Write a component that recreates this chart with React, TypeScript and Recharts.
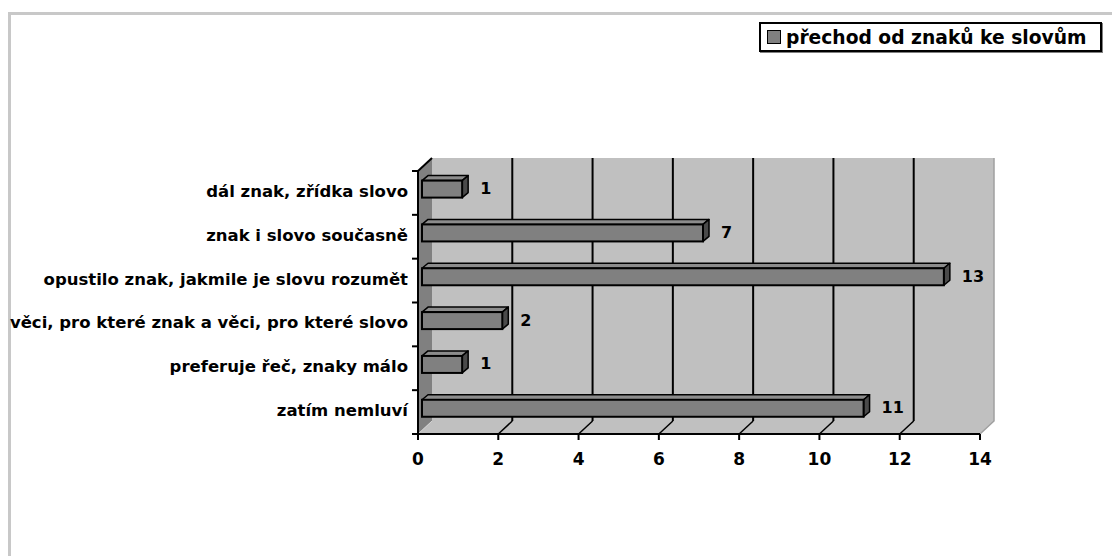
import React from 'react';
import { BarChart, Bar, XAxis, YAxis, ReferenceArea, Legend, LabelList } from 'recharts';

const categories = [
  'dál znak, zřídka slovo',
  'znak i slovo současně',
  'opustilo znak, jakmile je slovu rozumět',
  'věci, pro které znak a věci, pro které slovo',
  'preferuje řeč, znaky málo',
  'zatím nemluví',
];
const values = [1, 7, 13, 2, 1, 11];
const xTicks = [0, 2, 4, 6, 8, 10, 12, 14];
const seriesName = 'přechod od znaků ke slovům';

const data = categories.map((c, i) => ({ name: c, value: values[i] }));

const FONT = '"DejaVu Sans", Verdana, sans-serif';

const Walls = (p: any) => {
  const { x, y, width, height } = p;
  const dx = 14;
  const dy = 13;
  const bx = x + dx;
  const by = y - dy;
  const n = categories.length;
  const maxV = xTicks[xTicks.length - 1];
  const gx = (v: number) => x + (width * v) / maxV;
  const inner = xTicks.slice(1, -1);
  const yb = y + height;
  return (
    <g>
      <polygon points={`${bx},${by} ${bx + width},${by} ${bx + width},${by + height} ${bx},${by + height}`} fill="#c0c0c0" />
      <polygon points={`${x},${yb} ${bx},${by + height} ${bx + width},${by + height} ${x + width},${yb}`} fill="#c0c0c0" />
      <polygon points={`${x},${y} ${bx},${by} ${bx},${by + height} ${x},${yb}`} fill="#808080" />
      <line x1={x} y1={yb} x2={bx} y2={by + height} stroke="#d4d4d4" strokeWidth={1} />
      {inner.map((v) => (
        <line key={'g' + v} x1={gx(v) + dx} y1={by} x2={gx(v) + dx} y2={by + height} stroke="#000" strokeWidth={2} />
      ))}
      {inner.map((v) => (
        <line key={'d' + v} x1={gx(v)} y1={yb} x2={gx(v) + dx} y2={by + height} stroke="#000" strokeWidth={1.5} />
      ))}
      <polyline points={`${bx + width},${by} ${bx + width},${by + height} ${x + width},${yb}`} fill="none" stroke="#a0a0a0" strokeWidth={1.5} />
      <line x1={x} y1={y} x2={bx} y2={by} stroke="#000" strokeWidth={2} />
      {Array.from({ length: n + 1 }, (_, i) => (
        <line key={'t' + i} x1={x - 6} y1={y + (i * height) / n} x2={x} y2={y + (i * height) / n} stroke="#000" strokeWidth={2} />
      ))}
    </g>
  );
};

const Bar3D = (p: any) => {
  const { x, y, width, height } = p;
  if (width == null || isNaN(width)) return null;
  const fx = x + 4;
  const fy = y - 3.4;
  const w = width;
  const h = height;
  const dx = 6;
  const dy = 5;
  return (
    <g>
      <polygon
        points={`${fx},${fy} ${fx + dx},${fy - dy} ${fx + w + dx},${fy - dy} ${fx + w},${fy}`}
        fill="#8c8c8c"
        stroke="#000"
        strokeWidth={1.5}
        strokeLinejoin="round"
      />
      <polygon
        points={`${fx + w},${fy} ${fx + w + dx},${fy - dy} ${fx + w + dx},${fy + h - dy} ${fx + w},${fy + h}`}
        fill="#4a4a4a"
        stroke="#000"
        strokeWidth={1.5}
        strokeLinejoin="round"
      />
      <rect x={fx} y={fy} width={w} height={h} fill="#808080" stroke="#000" strokeWidth={2} />
    </g>
  );
};

const ValueLabel = (p: any) => {
  const { x, y, width, value } = p;
  return (
    <text x={x + width + 22} y={y + 10} fontFamily={FONT} fontWeight="bold" fontSize={16} fill="#000">
      {value}
    </text>
  );
};

const YTick = (p: any) => {
  const { x, y, payload } = p;
  return (
    <text x={x} y={y + 4} textAnchor="end" fontFamily={FONT} fontWeight="bold" fontSize={16.5} fill="#000">
      {payload.value}
    </text>
  );
};

const XTick = (p: any) => {
  const { x, y, payload } = p;
  return (
    <text x={x} y={y + 13} textAnchor="middle" fontFamily={FONT} fontWeight="bold" fontSize={17} fill="#000">
      {payload.value}
    </text>
  );
};

const LegendBox = () => (
  <div
    style={{
      boxSizing: 'border-box',
      width: 343,
      height: 30,
      border: '2px solid #000',
      boxShadow: '1px 1px 0 #808080',
      display: 'flex',
      alignItems: 'center',
      paddingLeft: 6,
      background: '#fff',
      fontFamily: FONT,
      fontWeight: 'bold',
      fontSize: 18.7,
      color: '#000',
      whiteSpace: 'nowrap',
    }}
  >
    <span
      style={{
        display: 'inline-block',
        boxSizing: 'border-box',
        width: 14,
        height: 14,
        background: '#808080',
        border: '1.5px solid #000',
        marginRight: 5,
      }}
    />
    <span>{seriesName}</span>
  </div>
);

export default function App() {
  return (
    <div style={{ position: 'relative', width: 1112, height: 556, overflow: 'hidden', background: '#fff' }}>
      <style>{`body{margin:0;overflow:hidden;}`}</style>
      <div
        style={{
          position: 'absolute',
          left: 8,
          top: 12,
          width: 1300,
          height: 800,
          border: '3px solid #c8c8c8',
          boxSizing: 'border-box',
        }}
      />
      <div style={{ position: 'absolute', left: 0, top: 0 }}>
        <BarChart
          width={1112}
          height={556}
          data={data}
          layout="vertical"
          margin={{ top: 171, right: 132, bottom: 82, left: 0 }}
        >
          <ReferenceArea x1={0} x2={14} shape={Walls} fill="none" stroke="none" isFront={false} />
          <XAxis
            type="number"
            domain={[0, 14]}
            ticks={xTicks}
            interval={0}
            height={40}
            tickSize={6}
            tickMargin={12}
            axisLine={{ stroke: '#000', strokeWidth: 2 }}
            tickLine={{ stroke: '#000', strokeWidth: 2 }}
            tick={<XTick />}
          />
          <YAxis
            type="category"
            dataKey="name"
            width={418}
            interval={0}
            tickSize={0}
            tickMargin={10}
            tickLine={false}
            axisLine={{ stroke: '#000', strokeWidth: 2 }}
            tick={<YTick />}
          />
          <Legend
            layout="horizontal"
            verticalAlign="middle"
            align="center"
            wrapperStyle={{ left: 759, top: 22, width: 343, height: 30 }}
            content={() => <LegendBox />}
          />
          <Bar dataKey="value" name={seriesName} barSize={17} shape={Bar3D} isAnimationActive={false}>
            <LabelList dataKey="value" content={ValueLabel} />
          </Bar>
        </BarChart>
      </div>
    </div>
  );
}
